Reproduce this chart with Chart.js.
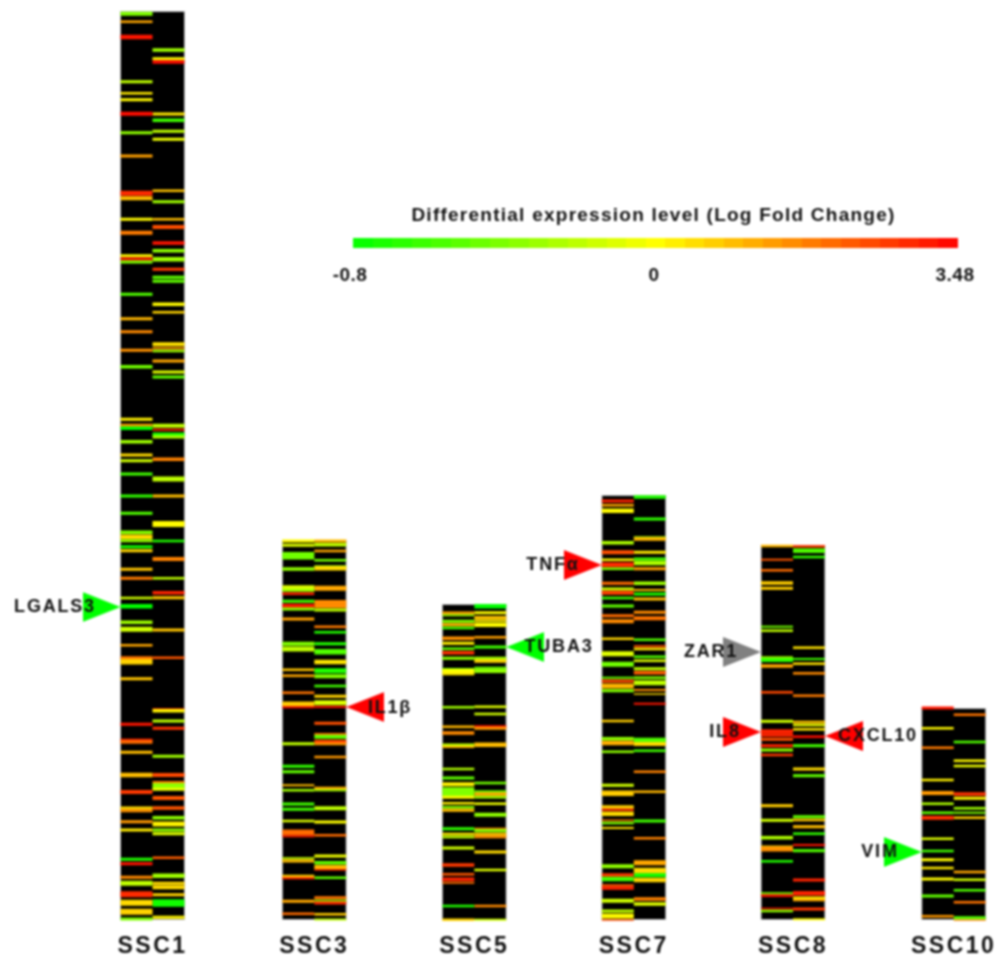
<!DOCTYPE html>
<html><head><meta charset="utf-8">
<style>html,body{margin:0;padding:0;background:#fff}canvas{display:block;filter:blur(0.8px)}</style>
<script src="https://cdn.jsdelivr.net/npm/chart.js@4"></script>
</head><body><canvas id="c" width="1005" height="956"></canvas>
<script>
// Chromosome labels and map extents (position units along the shared map axis)
const chromosomes = ['SSC1','SSC3','SSC5','SSC7','SSC8','SSC10'];
const chromTop = [11,540,604,495,545,708];
const chromBottom = [920,920,920,920,920,920];

// Each band: [position, span, log fold change]
const ssc1Left = [[13.7,4,-0.4],[21.7,2.5,1.2],[37,4.5,3.2],[81.7,3,-0.2],[93.3,2.5,0.3],[99.7,3,0.1],[113.7,4,3.3],[132.7,3,-0.35],[156,3,1.3],[193.3,5,2.9],[198.3,4,0.9],[219.3,3,0.1],[232.7,4,1.8],
[255.7,3,0.05],[259,3,3.2],[262,3,-0.4],[294.3,3,-0.55],[318.7,3,1],[331.7,3,1.6],[350.3,3,1.5],[366.7,3.5,-0.45],[419.3,3,0.2],[425.3,3,1.3],[428.3,3.5,-0.8],[441.7,3.5,-0.3],[455,3,0.5],[460.7,3,-0.15],
[474,3,-0.6],[496,3,-0.65],[513.3,3,-0.55],[532.3,3.5,-0.4],[536.7,4.5,0.5],[540.7,3,-0.35],[546.7,3,-0.75],[550.7,3,0.6],[569.3,3,0.8],[578.3,3,1.8],[598,2.5,-0.15],[606.3,4.5,-0.8],[622.3,3.5,-0.3],[629.3,5,-0.15],[645.3,2.5,1.2],[657.7,3,1.9],[661.7,5.5,0.6],[678.7,3,0.8],
[724.3,3,3.2],[739.7,2,3],[742,3.5,2],[752.3,3,0.9],[775,4.5,0.9],[792,4,2.7],[808,3,0.5],[810.7,3,1.5],[821.7,3,1.4],[830,3,0.3],[859.3,3,-0.7],[863.7,3,3.2],[877.3,3,1.6],[883.3,5,-0.2],[894.3,6,2.9],[902.7,6,0.5],[911.7,6,0.6],[919,3,-0.4]];
const ssc1Right = [[50,3.5,-0.3],[58.7,3,0],[62,3.5,3.3],[114,3,0.3],[120.3,3.5,-0.6],[131.3,3,-0.2],[139.3,3,-0.05],[190.7,2.5,0.8],[201.7,3,-0.3],[219.3,2.5,0.9],[227,4,2.4],
[243,3.5,3.2],[250.7,3.5,-0.35],[259.3,4.5,-0.3],[269.3,3,2.7],[277.3,3,-0.5],[281.3,3,-0.5],[304.3,3.5,0.05],[312.3,2.5,0.6],[344.3,4,0.4],[348.3,2,1.4],[351,2.5,-0.3],[361,3,1.2],[372,3,-0.1],[377,3,-0.5],[425.7,4,-0.2],[429.7,2,3],[434.3,3.5,-0.7],[437,3,-0.25],[459.3,3.5,1.7],
[479,5,-0.2],[496,3,0.9],[524,6,0.05],[541,2.5,-0.7],[559,4,1.7],[578.3,2.5,-0.2],[592.7,3.5,3],[597.7,3,0.8],[630,3,0.8],[657.7,2.5,2.3],
[708.7,1,3],[710.7,3.5,0.15],[721,3,-0.2],[728.3,3,2.8],[756.3,3,-0.3],[775,4,2.5],[782,2,1.8],[786,6,-0.35],[789.3,3,-0.05],[798,4,2.3],[808,3.5,2.3],[817.7,3.5,-0.35],[824,5,0.15],[830,3,-0.35],[833.7,3,-0.1],[857.7,2.5,2.2],[875.7,4.5,-0.3],[883.3,3,0.5],[887.3,4,0.5],[894.7,3,0.6],[903,7.5,-0.75],[917.3,3,0.15]];
const ssc3Left = [[541,3,0.05],[545.3,3,-0.1],[555.7,7.5,-0.45],[569,3.5,-0.35],[587.7,5,-0.1],[590.3,3,-0.3],[593.7,2.5,3],[601.3,3,-0.6],[605.7,4,3.2],[609,3,-0.35],[619,3,1.3],[643.7,4,-0.4],[649,5,-0.2],[669.7,2.5,0.8],[675.7,2.5,1.2],[692.7,2.5,1.9],[704,5,0.7],[707.3,2,3.3],
[743.7,3,-0.2],[766.3,3,-0.65],[771.7,3,-0.5],[785.3,2,0.9],[790.3,2.5,-0.3],[804,3,-0.6],[809.3,3,-0.6],[821,2.5,-0.1],[832.3,5.5,2],[836.3,2,3],[858.3,2,-0.2],[861,3,0.9],[876.3,3,0.7],[878.3,2,3],[901.3,3,1.2],[913.7,2.5,2]];
const ssc3Right = [[541,3,0.9],[544.7,3.5,-0.2],[551,2.5,1.2],[560.3,2.5,-0.45],[566,1.5,-0.4],[568.3,4.5,0.5],[588.3,5,1.2],[604,8,1.6],[610,3,-0.2],[626.7,2.5,1.8],[632.3,2.5,-0.7],[643.7,3,-0.7],[651.7,5.5,-0.55],[662,4.5,0.35],[670.7,5,-0.7],[676.3,4,-0.4],[686,2.5,-0.6],[696.3,3,0.6],[702.7,5,-0.1],[707,2,3.3],[723.3,3,2.4],
[734,2,2],[736.7,4,-0.5],[741.7,4,2.5],[744,2.5,1.4],[757,2.5,1.4],[788.3,3,1.1],[790.3,2,-0.3],[808.3,4,-0.2],[822,3,0],[835.3,2.5,2],[856,3,-0.05],[862.7,3.5,-0.5],[867.3,4.5,1],[869.7,1.5,2.9],[877.7,2.5,-0.5],[897.7,3,1.9],[900.7,2,-0.35],[903,3,2.9],[914.3,2.5,0.7],[919.5,2,-0.2]];
const ssc5Left = [[612.7,2.5,1.2],[615.3,2,-0.3],[621.3,3,-0.4],[624.7,3,1],[628,2.5,-0.6],[638.3,3.5,1.5],[643.3,3,0.2],[648.7,2.5,-0.5],[652.7,3.5,2.8],[658.3,3,-0.35],[669,2,-0.6],[671.3,5,0],[674.3,2,0.3],[707.3,2.5,-0.3],[726.7,2.5,1],[733,3.5,1.6],[744.7,2.5,-0.2],[747,2,1],[769,2.5,-0.25],[778,3,-0.5],[784.3,4,0.15],[791.7,9,-0.4],[797.3,3,0.05],[803.3,2.5,0.2],[807.3,2.5,-0.4],[810.3,3,0.9],[828.7,3,-0.65],[834,2.5,0.2],[837,2.5,-0.2],[848,3,-0.15],[865,3.5,2.7],[874.3,2.5,2.3],[879.3,3.5,3],[882.7,2,2],[906,2.5,-0.7],[919.7,2.5,0.6]];
const ssc5Right = [[606.3,4.5,-0.8],[612.7,3,0.05],[617.7,3.5,0.8],[620.7,2,0.2],[624.7,4.5,0.05],[637.3,2.5,1.3],[647,3,-0.6],[658.3,3,-0.3],[661,3.5,0.5],[667.7,2,-0.5],[670.7,4.5,-0.35],[706.7,2.5,-0.1],[714,2.5,-0.15],[726.3,2,3.3],[728.3,3,1.4],[744.7,4.5,0.9],[783,2.5,-0.45],[791.3,2,-0.5],[794,3.5,0.9],[797.3,2.5,-0.3],[803.7,2.5,-0.05],[814.7,4,-0.35],[828.7,2,1.5],[830.7,3,-0.4],[834.3,3,0.8],[837,2.5,1.5],[852,3,0.5],[870,2.5,-0.1],[906,2.5,1.6],[919.7,2,-0.15]];
const ssc7Left = [[501,3,3],[505.3,2.5,1.2],[510.7,4.5,0.05],[542.7,3.5,-0.25],[552.3,4,2.4],[559.7,2.5,0.1],[564.7,5,2.9],[568.7,2.5,-0.4],[583.3,3,2],[589,3,-0.15],[592.7,4,2.6],[598,2.5,-0.6],[606,3,-0.5],[615.7,3,2],[621.3,4,1.6],[638.7,2.5,0.6],[653.7,5,-0.1],[664.3,5,-0.45],[677.7,2,-0.5],[681,3,2.5],[686,5,1],[690.7,3,-0.4],
[721,2.5,0.7],[738.7,3.5,-0.35],[743,4.5,1.1],[751.7,2.5,-0.35],[785.3,3,-0.15],[793.3,5.5,0.7],[807,3.5,0.6],[809.7,2,3],[813.7,4.5,0.5],[820.3,1.5,1.8],[823,2.5,-0.4],[828,2,0.4],[866.3,4,-0.35],[875,3.5,2.7],[879,4.5,-0.6],[885.3,2,2.2],[888,3.5,3],[900.7,4,-0.15],[911,3,-0.2],[916,5,0.05],[920,1.5,2.5]];
const ssc7Right = [[497,3.5,-0.7],[519,3,-0.65],[537,1.5,-0.3],[539,3.5,1],[552.3,3,0.3],[559,3,-0.6],[563,4.5,-0.25],[568.7,3,1.3],[583.3,3.5,-0.3],[590,2,0.9],[594,3,-0.7],[599,3,0.9],[612.3,3,1.6],[618.3,4,1.9],[639.7,2.5,-0.55],[646.3,2,2.4],[649,2.5,0.3],[656.7,2.5,-0.55],[660.7,2.5,-0.1],[668.7,3,-0.2],[672.7,3.5,2.2],[677.7,2.5,-0.4],[682.7,5,-0.2],[690,2,1.5],[694,1.5,0.5],[703.7,2,3.2],
[740.3,5,-0.55],[744,4,0.5],[750.7,2.5,-0.6],[771.7,2.5,1.7],[791.7,2.5,1],[821,3,-0.6],[838.3,2.5,1.7],[862.7,5,1.2],[870.7,6,0.5],[875.3,4,-0.75],[880,4.5,0.6],[899,3.5,1.7],[904,3.5,-0.1]];
const ssc8Left = [[546,2.5,1],[559.7,2,2.3],[570.3,2.5,2],[583,3.5,0.7],[588.3,3,0.7],[626.7,2,-0.45],[630.7,2.5,-0.2],[657.3,2,-0.3],[660,4,-0.65],[666,3.5,1.2],[692.3,2.5,2.5],[721.3,3,-0.15],[731.3,4,3],[735,3.5,3],[739.3,3,2.4],[745.7,3,3],[750,3,-0.35],[755,2.5,2.7],[805.7,3,0.7],[820.3,3,-0.15],[837.7,3.5,-0.25],[846.3,1.5,0.5],[849,5,1.5],[861.3,2.5,-0.7],[893.3,2,-0.4],[895.7,2.5,3.2],[908.5,1.5,3.2],[911,2.5,-0.35]];
const ssc8Right = [[546.3,2.5,2.7],[550.7,4.5,-0.55],[557,2.5,-0.65],[647.7,2.5,0.4],[659,2,-0.6],[663.7,2.5,0.4],[673.3,2.5,1.6],[695.7,2.5,1.8],[722,2.5,0.8],[725,2.5,-0.05],[729.3,2.5,0.35],[736.7,2.5,3.3],[745.7,3,-0.6],[769,3,0.5],[775.7,3,-0.5],[816.7,3,-0.5],[820,2.5,0.8],[826.7,3,0.9],[833.7,2.5,-0.65],[845,2,3.2],[850.7,3,-0.55],[880,3,3],[893.3,4.5,3],[898,3,0.3],[900,2.5,1.2],[909,3,2.7],[919.3,2,0.05]];
const ssc10Left = [[708,3,3.2],[728.3,2.5,0.1],[747.7,2.5,1.8],[780,2.5,0.2],[793,4,1.4],[803.7,2.5,-0.25],[812.7,2.5,-0.5],[817.7,4,2.8],[838.7,2.5,-0.1],[851,2.5,-0.6],[859.7,3,0.05],[868,2.5,0.3],[879,3,0.05],[896,3,-0.5],[916.3,2.5,1.4]];
const ssc10Right = [[714.7,2.5,1.9],[742,2.5,-0.55],[760.7,2.5,0.05],[766,2.5,-0.05],[794,3.5,2.8],[798.3,3,0.15],[808.3,2.5,-0.3],[812.7,2,-0.4],[817.7,2.5,0.7],[872,2.5,1.2],[879.7,2.5,-0.15],[890.3,2.5,-0.55],[902.3,2.5,1.9],[917.7,3,-0.55],[920,1.5,1.6]];

// Marked genes
const geneNames = ['LGALS3','IL1β','TUBA3','TNFα','ZAR1','IL8','CXCL10','VIM'];
const geneChrom = [0,1,2,3,4,4,4,5];
const geneSide = ['left','right','right','left','left','left','right','left'];
const genePos = [607,707,647,565,652,732,736,852];
const geneChange = [-0.8,3.48,-0.8,3.48,null,3.48,3.48,-0.8];

// Colour scale
const scaleTitle = 'Differential expression level (Log Fold Change)';
const scaleMin = -0.8, scaleMid = 0, scaleMax = 3.48;

// Layout (not data)
const W = 1005, AXIS_H = 31, PLOT_H = 956 - AXIS_H;
const centers = [152.5,314.3,474.3,633.8,793,953.7];
const COL = 32, HALF = 16, TRI_W = 38, TRI_H = 30;
const RAMP = {x0:353, x1:958, top:238, bottom:248};
const geneLabelX = [55,390,559,553,711,725,878,880];

function colorOf(v){
  if(v===null) return '#808080';
  if(v<0){const t=Math.max(-1,v/0.8);return `rgb(${Math.round(255*(1+t))},255,0)`;}
  const t=Math.min(1,v/3.48);return `rgb(255,${Math.round(255*(1-t))},0)`;
}
function bands(list,x){
  return {type:'bar',order:5,barThickness:COL,grouped:false,borderWidth:0,inflateAmount:0,
    data:list.map(b=>({x,y:[b[0]-b[1]/2,b[0]+b[1]/2]})),
    backgroundColor:list.map(b=>colorOf(b[2]))};
}
function arrowSprite(color,side){
  const s=document.createElement('canvas');s.width=TRI_W;s.height=TRI_H;
  const g=s.getContext('2d');g.fillStyle=color;g.beginPath();
  if(side==='left'){g.moveTo(0,0);g.lineTo(TRI_W,TRI_H/2);g.lineTo(0,TRI_H);}
  else{g.moveTo(TRI_W,0);g.lineTo(0,TRI_H/2);g.lineTo(TRI_W,TRI_H);}
  g.closePath();g.fill();return s;
}
const columns=[[ssc1Left,ssc1Right],[ssc3Left,ssc3Right],[ssc5Left,ssc5Right],[ssc7Left,ssc7Right],[ssc8Left,ssc8Right],[ssc10Left,ssc10Right]];
const datasets=[];
// Colour ramp
datasets.push({type:'bar',order:5,barThickness:RAMP.x1-RAMP.x0,grouped:false,borderWidth:0,inflateAmount:0,
  data:[{x:(RAMP.x0+RAMP.x1)/2,y:[RAMP.top,RAMP.bottom]}],
  backgroundColor(ctx){
    const g=ctx.chart.ctx.createLinearGradient(RAMP.x0,0,RAMP.x1,0),n=31;
    for(let i=0;i<n;i++){
      const t=(i+0.5)/n*2-1, v=t<0?t*0.8:t*3.48, c=colorOf(v);
      g.addColorStop(i/n,c);g.addColorStop((i+1)/n,c);
    }
    return g;
  }});
// Chromosome bodies
datasets.push({type:'bar',order:10,barThickness:COL*2+1,grouped:false,borderWidth:1,borderColor:'#b8b8b8',borderSkipped:false,inflateAmount:0,backgroundColor:'#000',
  data:chromosomes.map((n,i)=>({x:centers[i],y:[chromTop[i],chromBottom[i]]}))});
columns.forEach((pair,i)=>{datasets.push(bands(pair[0],centers[i]-HALF));datasets.push(bands(pair[1],centers[i]+HALF));});
// Gene markers
datasets.push({type:'scatter',order:1,
  data:geneNames.map((n,i)=>({x:centers[geneChrom[i]]+(geneSide[i]==='left'?-(COL+TRI_W/2):(COL+TRI_W/2)),y:genePos[i]})),
  pointStyle:geneNames.map((n,i)=>arrowSprite(colorOf(geneChange[i]),geneSide[i])),
  pointRadius:TRI_W/2,pointHoverRadius:TRI_W/2,pointBorderWidth:0});

const textPlugin={id:'text',
  beforeDraw(c){c.ctx.letterSpacing='2.5px';},
  afterDatasetsDraw(c){
    const {ctx,scales:{x,y}}=c;
    ctx.save();ctx.fillStyle='#111';ctx.textBaseline='middle';ctx.textAlign='center';
    ctx.font='bold 19px "Liberation Sans"';ctx.letterSpacing='1.25px';
    ctx.fillText(scaleTitle,x.getPixelForValue(653.5),y.getPixelForValue(216));
    ctx.font='bold 19px "Liberation Sans"';ctx.letterSpacing='0.5px';
    ctx.fillText(String(scaleMin),x.getPixelForValue(350),y.getPixelForValue(276));
    ctx.fillText(String(scaleMid),x.getPixelForValue(654),y.getPixelForValue(276));
    ctx.fillText(String(scaleMax),x.getPixelForValue(955),y.getPixelForValue(276));
    ctx.font='bold 18px "Liberation Sans"';ctx.letterSpacing='1.8px';
    geneNames.forEach((n,i)=>ctx.fillText(n,x.getPixelForValue(geneLabelX[i]),y.getPixelForValue(genePos[i])+(i==1?1:0)));
    ctx.restore();
  }};

new Chart(document.getElementById('c'),{
  type:'bar',
  data:{datasets},
  plugins:[textPlugin],
  options:{
    responsive:false,animation:false,
    layout:{padding:0,autoPadding:false},
    plugins:{legend:{display:false},tooltip:{enabled:false},title:{display:false}},
    scales:{
      x:{type:'linear',min:0,max:W,offset:false,grid:{display:false},border:{display:false},
        afterBuildTicks(s){s.ticks=centers.map(v=>({value:v}));},
        afterFit(s){s.height=AXIS_H;s.paddingLeft=0;s.paddingRight=0;s.paddingTop=0;s.paddingBottom=0;},
        ticks:{autoSkip:false,maxRotation:0,padding:0,color:'#111',font:{family:'"Liberation Sans"',size:23,weight:'bold'},
          callback(v){return chromosomes[centers.indexOf(v)];}}},
      y:{type:'linear',display:false,reverse:true,min:0,max:PLOT_H}
    }
  }
});
</script></body></html>
